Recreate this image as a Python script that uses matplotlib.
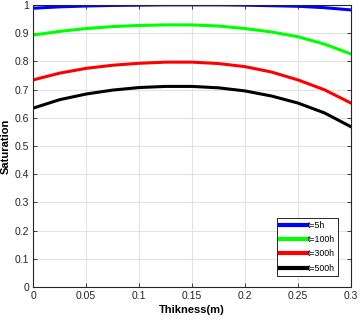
import matplotlib
matplotlib.use('Agg')
import matplotlib.pyplot as plt

plt.rcParams['font.family'] = ['Liberation Sans', 'DejaVu Sans']

# thickness positions (m)
thickness = [0, 0.025, 0.05, 0.075, 0.1, 0.125, 0.15, 0.175, 0.2, 0.225, 0.25, 0.275, 0.3]
# saturation
sat_5h = [0.988, 0.993, 0.996, 0.998, 0.999, 1.0, 1.0, 1.0, 0.999, 0.997, 0.995, 0.990, 0.982]
sat_100h = [0.893, 0.906, 0.916, 0.923, 0.927, 0.929, 0.929, 0.925, 0.916, 0.904, 0.887, 0.861, 0.826]
sat_300h = [0.734, 0.758, 0.775, 0.786, 0.793, 0.797, 0.797, 0.792, 0.781, 0.762, 0.734, 0.699, 0.652]
sat_500h = [0.634, 0.664, 0.684, 0.698, 0.707, 0.711, 0.711, 0.706, 0.695, 0.677, 0.652, 0.617, 0.568]

series = [('t=5h', sat_5h, '#0000ff'), ('t=100h', sat_100h, '#00ff00'),
          ('t=300h', sat_300h, '#ff0000'), ('t=500h', sat_500h, '#000000')]

fig = plt.figure(figsize=(3.6, 3.24), dpi=100)
ax = fig.add_axes([0.092, 0.114, 0.883, 0.871])

for label, vals, col in series:
    ax.plot(thickness, vals, color=col, lw=2.2, label=label)

ax.set_xlim(0, 0.3)
ax.set_ylim(0, 1)
ax.set_xticks([0, 0.05, 0.1, 0.15, 0.2, 0.25, 0.3])
ax.set_xticklabels(['0', '0.05', '0.1', '0.15', '0.2', '0.25', '0.3'])
ax.set_yticks([i / 10 for i in range(11)])
ax.set_yticklabels(['0', '0.1', '0.2', '0.3', '0.4', '0.5', '0.6', '0.7', '0.8', '0.9', '1'])
ax.grid(True, color='#e3e3e3', lw=0.8)
ax.set_axisbelow(True)
ax.tick_params(labelsize=7.5, colors='#262626', direction='in', length=3, width=0.6,
               top=True, right=True, pad=3)
for s in ax.spines.values():
    s.set_color('#262626')
    s.set_linewidth(0.8)

ax.set_xlabel('Thikness(m)', fontsize=8, fontweight='bold', labelpad=3)
ax.set_ylabel('Saturation', fontsize=8, fontweight='bold', labelpad=3)

leg = ax.legend(loc='lower right', fontsize=6.3, handlelength=3.0, handletextpad=0.1,
                labelspacing=0.6, borderpad=0.35, fancybox=False, framealpha=1,
                edgecolor='#262626', bbox_to_anchor=(0.972, 0.025))
leg.get_frame().set_linewidth(0.7)
for line in leg.get_lines():
    line.set_linewidth(3)

fig.savefig('out.png', dpi=100)
